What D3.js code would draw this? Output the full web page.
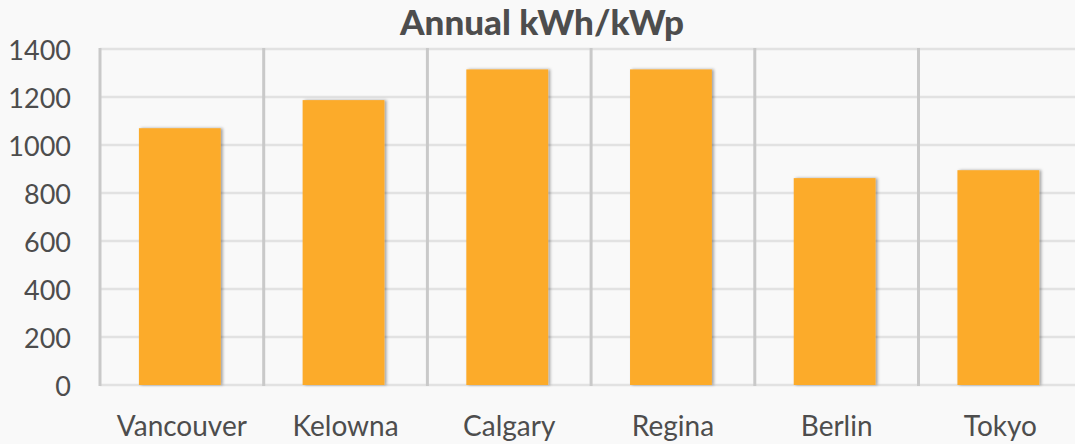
<!DOCTYPE html>
<html>
<head>
    <script src="https://d3js.org/d3.v7.min.js"></script>
    <style>
        body {
            margin: 0;
            background: #f9f9f9;
            font-family: 'Lato', sans-serif;
        }
    </style>
</head>
<body>
<div id="chart"></div>
<script>
// data
var cities = ["Vancouver", "Kelowna", "Calgary", "Regina", "Berlin", "Tokyo"];
var kwhPerKwp = [1070, 1187, 1315, 1315, 862, 895];
var yTicks = [0, 200, 400, 600, 800, 1000, 1200, 1400];
var title = "Annual kWh/kWp";

var width = 1075, height = 444;
var margin = {left: 100, top: 49, bottom: 59};
var bandW = 163.7;

var svg = d3.select("#chart").append("svg")
    .attr("width", width)
    .attr("height", height);

svg.append("rect").attr("width", width).attr("height", height).attr("fill", "#f9f9f9");

var x = d3.scaleBand()
    .domain(cities)
    .range([margin.left, margin.left + bandW * cities.length])
    .padding(0);

var y = d3.scaleLinear()
    .domain([0, 1400])
    .range([height - margin.bottom, margin.top]);

// subtle shadow on bars
var defs = svg.append("defs");
var f = defs.append("filter").attr("id", "shadow")
    .attr("x", "-10%").attr("y", "-10%").attr("width", "130%").attr("height", "120%");
f.append("feDropShadow")
    .attr("dx", 2).attr("dy", 0).attr("stdDeviation", 1.5)
    .attr("flood-color", "#000").attr("flood-opacity", 0.35);

// horizontal gridlines
svg.append("g").selectAll("line")
    .data(yTicks)
    .enter().append("line")
    .attr("x1", margin.left)
    .attr("x2", width)
    .attr("y1", function(d) { return y(d); })
    .attr("y2", function(d) { return y(d); })
    .attr("stroke", "#e2e2e2")
    .attr("stroke-width", 2.5);

// vertical separators between categories
svg.append("g").selectAll("line")
    .data(cities)
    .enter().append("line")
    .attr("x1", function(d) { return x(d); })
    .attr("x2", function(d) { return x(d); })
    .attr("y1", y(1400) - 1)
    .attr("y2", y(0) + 1)
    .attr("stroke", "#c9c9c9")
    .attr("stroke-width", 3);

// bars
var barW = x.bandwidth() * 0.5;
svg.append("g").selectAll("rect")
    .data(kwhPerKwp)
    .enter().append("rect")
    .attr("x", function(d, i) { return x(cities[i]) + x.bandwidth() / 2 - barW / 2 - 2; })
    .attr("y", function(d) { return y(d); })
    .attr("width", barW)
    .attr("height", function(d) { return y(0) - y(d); })
    .attr("fill", "#fcab2c")
    .attr("filter", "url(#shadow)");

// y axis labels
var yAxis = d3.axisLeft(y).tickValues(yTicks).tickFormat(d3.format("d")).tickSize(0).tickPadding(29);
var ya = svg.append("g")
    .attr("transform", "translate(" + margin.left + ",0)")
    .call(yAxis);
ya.select(".domain").remove();
ya.selectAll("text")
    .attr("dy", "0.4em")
    .style("font-family", "'Lato', sans-serif")
    .style("font-size", "27px")
    .style("fill", "#4d4d4d");

// x axis labels
var xAxis = d3.axisBottom(x).tickSize(0).tickPadding(31);
var xa = svg.append("g")
    .attr("transform", "translate(0," + y(0) + ")")
    .call(xAxis);
xa.select(".domain").remove();
xa.selectAll("text")
    .style("font-family", "'Lato', sans-serif")
    .style("font-size", "28px")
    .style("fill", "#4d4d4d");

// title
svg.append("text")
    .attr("x", 542)
    .attr("y", 35)
    .attr("text-anchor", "middle")
    .style("font-family", "'Lato', sans-serif")
    .style("font-weight", "900")
    .style("font-size", "35px")
    .style("fill", "#4d4d4d")
    .text(title);
</script>
</body>
</html>
